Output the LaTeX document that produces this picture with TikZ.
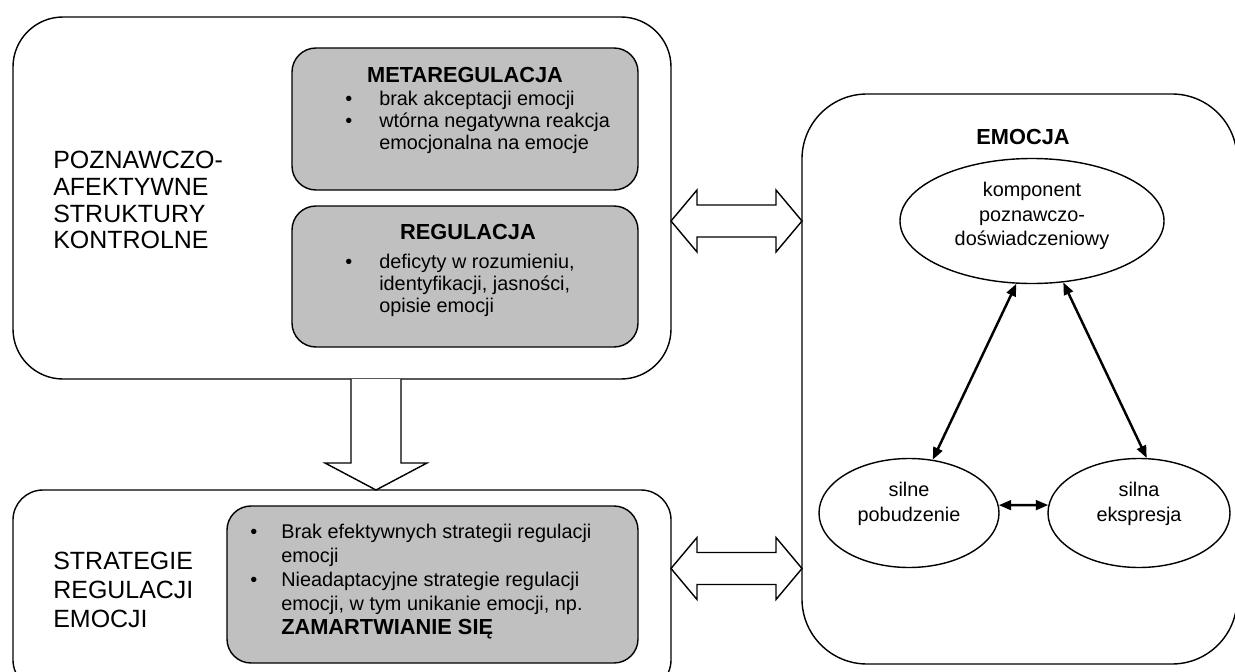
\documentclass[tikz,border=0pt]{standalone}
\usepackage{fontspec}
\setmainfont{Liberation Sans}
\usetikzlibrary{shapes.geometric, arrows.meta, calc}

\definecolor{boxgray}{RGB}{192,192,192}

\tikzset{
  outer/.style={draw, line width=0.8pt, rounded corners=10mm, inner sep=0pt, outer sep=0pt},
  inner/.style={draw, fill=boxgray, line width=0.8pt, rounded corners=4.8mm, inner sep=0pt, outer sep=0pt},
  comp/.style={draw, ellipse, line width=0.8pt, inner sep=0pt},
  comptext/.style={align=center, inner sep=0pt, font=\fontsize{11.3}{14.2}\selectfont},
  sidetext/.style={align=left, inner sep=0pt, font=\fontsize{14.2}{15.3}\selectfont},
  head/.style={inner sep=0pt, font=\bfseries\fontsize{12.4}{14}\selectfont},
  items/.style={anchor=base west, inner sep=0pt, font=\fontsize{11.3}{12.6}\selectfont},
  blockarrow/.style={draw, line width=0.8pt, fill=white, line join=miter},
  twoway/.style={{Triangle[length=7pt,width=5.5pt]}-{Triangle[length=7pt,width=5.5pt]}, line width=1.4pt}
}

\begin{document}
\begin{tikzpicture}[x=0.2mm, y=-0.2mm]
  \useasboundingbox (0,0) rectangle (1235,672);

  \node[outer, minimum width=131.6mm, minimum height=72.4mm] (ctrl) at (342,198) {};
  \node[inner, minimum width=69.2mm, minimum height=28.4mm] (meta) at (465,119) {};
  \node[inner, minimum width=69.2mm, minimum height=28.2mm] (reg) at (465,276.5) {};
  \node[outer, rounded corners=6mm, minimum width=131.6mm, minimum height=40mm] (strat) at (342,590) {};
  \node[inner, minimum width=82.2mm, minimum height=31.4mm] (strin) at (432.5,584.5) {};
  \node[outer, rounded corners=13mm, minimum width=87mm, minimum height=114mm] (emo) at (1019.5,379) {};

  \node[sidetext, anchor=west] (ctrltxt) at (53,200) {POZNAWCZO-\\AFEKTYWNE\\STRUKTURY\\KONTROLNE};
  \node[sidetext, anchor=west, font=\fontsize{14.2}{16.4}\selectfont] (strtxt) at (53,590) {STRATEGIE\\REGULACJI\\EMOCJI};

  \node[head] (metatit) at (465,75) {METAREGULACJA};
  \node[items] (metalist) at (345,105) {\begin{tabular}[t]{@{}p{19.3pt}@{}l@{}}
    \textbullet & brak akceptacji emocji\\
    \textbullet & wtórna negatywna reakcja\\
                & emocjonalna na emocje
  \end{tabular}};

  \node[head] (regtit) at (468,232) {REGULACJA};
  \node[items] (reglist) at (345,268) {\begin{tabular}[t]{@{}p{19.3pt}@{}l@{}}
    \textbullet & deficyty w rozumieniu,\\
                & identyfikacji, jasności,\\
                & opisie emocji
  \end{tabular}};

  \node[items, font=\fontsize{11.3}{13.75}\selectfont] (strlist) at (250,538) {\begin{tabular}[t]{@{}p{17.6pt}@{}l@{}}
    \textbullet & Brak efektywnych strategii regulacji\\
                & emocji\\
    \textbullet & Nieadaptacyjne strategie regulacji\\
                & emocji, w tym unikanie emocji, np.\\
                & \textbf{\fontsize{12.4}{13.75}\selectfont ZAMARTWIANIE SIĘ}
  \end{tabular}};

  \node[head] (emotit) at (1023,137) {EMOCJA};
  \node[comp, minimum width=52.8mm, minimum height=25mm] (komp) at (1032,221) {};
  \node[comp, minimum width=36mm, minimum height=21.8mm] (pob) at (909,513) {};
  \node[comp, minimum width=36.4mm, minimum height=21.8mm] (eks) at (1139,513) {};
  \node[comptext, font=\fontsize{11.3}{13.9}\selectfont] (komptxt) at ($(komp)+(0,-5)$) {komponent\\poznawczo-\\doświadczeniowy};
  \node[comptext] (pobtxt) at ($(pob)+(0,-9)$) {silne\\pobudzenie};
  \node[comptext] (ekstxt) at ($(eks)+(0,-9)$) {silna\\ekspresja};

  \draw[twoway] (komp.-104) -- (pob.66);
  \draw[twoway] (komp.-63) -- (eks.82);
  \draw[twoway] (pob.5) -- (eks.175);

  \coordinate (dn) at (376,0);
  \coordinate (r1) at (0,221);
  \coordinate (r2) at (0,568.5);

  \draw[blockarrow] ($(ctrl.south -| dn)+(-25,0)$) -- ($(strat.north -| dn)+(-25,-27)$) -- ++(-26,0)
    -- (strat.north -| dn) -- ++(51,-27) -- ++(-26,0) -- ($(ctrl.south -| dn)+(25,0)$);

  \draw[blockarrow] (ctrl.east |- r1) -- ++(26,-31) -- ++(0,15) -- ($(emo.west |- r1)+(-26,-16)$) -- ++(0,-15)
    -- (emo.west |- r1) -- ++(-26,31) -- ++(0,-15) -- ($(ctrl.east |- r1)+(26,16)$) -- ++(0,15) -- cycle;
  \draw[blockarrow] (strat.east |- r2) -- ++(26,-31) -- ++(0,15) -- ($(emo.west |- r2)+(-26,-16)$) -- ++(0,-15)
    -- (emo.west |- r2) -- ++(-26,31) -- ++(0,-15) -- ($(strat.east |- r2)+(26,16)$) -- ++(0,15) -- cycle;
\end{tikzpicture}
\end{document}
